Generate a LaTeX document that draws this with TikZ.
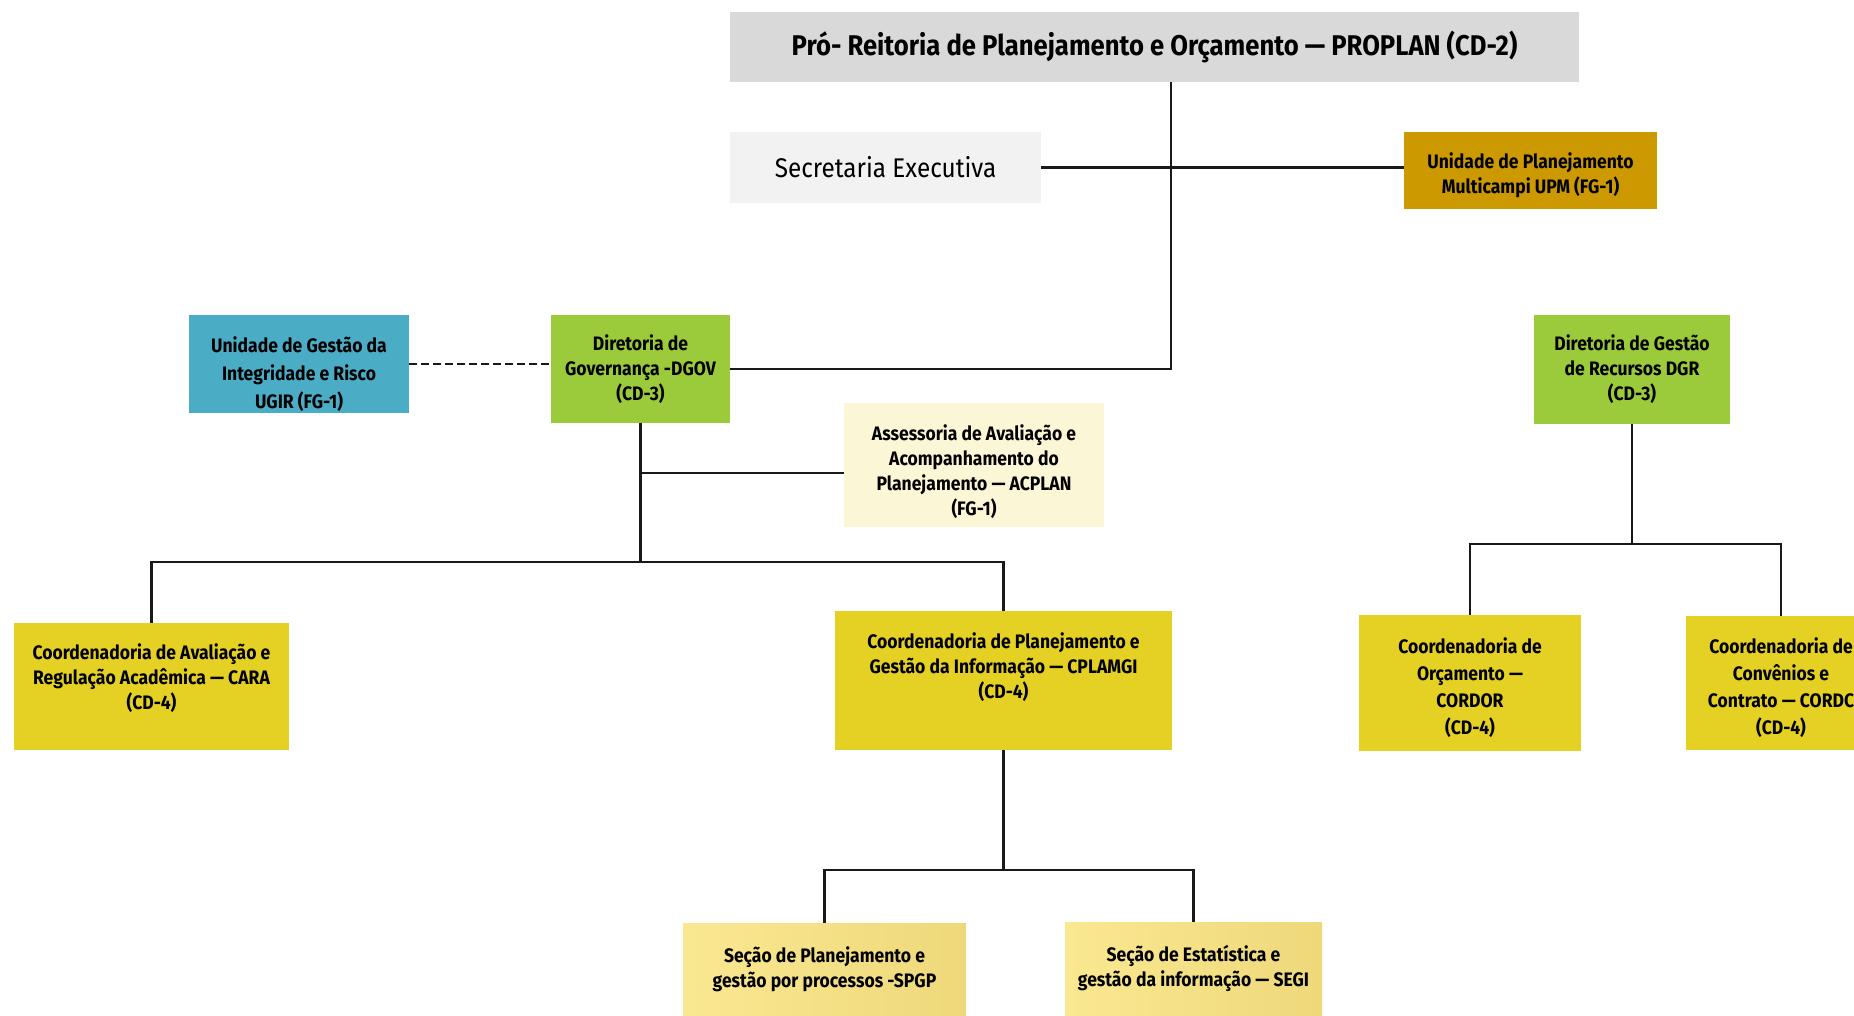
\documentclass[tikz,border=0pt]{standalone}
\usepackage{fontspec}
\newfontfamily\orgfont{Fira Sans}[FakeStretch=0.9]
\usepackage{tikz}
\usetikzlibrary{positioning,calc}
\definecolor{headgray}{RGB}{217,217,217}
\definecolor{secgray}{RGB}{242,242,242}
\definecolor{upmgold}{RGB}{204,153,0}
\definecolor{ugirblue}{RGB}{75,172,198}
\definecolor{dirgreen}{RGB}{155,203,59}
\definecolor{assescream}{RGB}{251,246,213}
\definecolor{coordyellow}{RGB}{229,208,36}
\definecolor{secaolight}{RGB}{250,232,145}
\definecolor{secaodark}{RGB}{238,216,122}
\begin{document}
\begin{tikzpicture}[x=1pt,y=-1pt,
    unit/.style={inner sep=0pt, align=center, text=black,
      font=\orgfont\bfseries\fontsize{19.5}{25}\selectfont},
    link/.style={line width=2.5pt, black!90}]
    \useasboundingbox (0,0) rectangle (1854,1015);
    \clip (0,0) rectangle (1854,1015);

    \node[unit, fill=headgray, minimum width=849pt, minimum height=70pt,
      font=\orgfont\bfseries\fontsize{28.5}{34}\selectfont] (proplan) at (1154.5,47)
      {Pró- Reitoria de Planejamento e Orçamento — PROPLAN (CD-2)};
    \node[unit, fill=secgray, minimum width=311pt, minimum height=71pt,
      font=\orgfont\fontsize{27}{30}\selectfont] (secex) at (885.5,167.5) {Secretaria Executiva};
    \node[unit, fill=upmgold, minimum width=253pt, minimum height=77pt] (upm) at (1530.5,170.5)
      {\rule{0pt}{26pt}Unidade de Planejamento\\Multicampi UPM (FG-1)};
    \node[unit, fill=ugirblue, minimum width=220pt, minimum height=98pt,
      font=\orgfont\bfseries\fontsize{19.5}{28}\selectfont] (ugir) at (299,364)
      {\rule{0pt}{36pt}Unidade de Gestão da\\Integridade e Risco\\UGIR (FG-1)};
    \node[unit, fill=dirgreen, minimum width=179pt, minimum height=108pt] (dgov) at (640.5,369)
      {Diretoria de\\Governança -DGOV\\(CD-3)};
    \node[unit, fill=assescream, minimum width=260pt, minimum height=124pt] (acplan) at (974,465)
      {\rule{0pt}{30pt}Assessoria de Avaliação e\\Acompanhamento do\\Planejamento —  ACPLAN\\(FG-1)};
    \node[unit, fill=dirgreen, minimum width=196pt, minimum height=109pt] (dgr) at (1632,369.5)
      {Diretoria de Gestão\\de Recursos DGR\\(CD-3)};
    \node[unit, fill=coordyellow, minimum width=275pt, minimum height=127pt] (cara) at (151.5,686.5)
      {Coordenadoria de Avaliação e\\Regulação Acadêmica — CARA\\(CD-4)\rule[-19pt]{0pt}{0pt}};
    \node[unit, fill=coordyellow, minimum width=337pt, minimum height=139pt] (cplamgi) at (1003.5,680.5)
      {Coordenadoria de Planejamento e\\Gestão da Informação — CPLAMGI\\(CD-4)\rule[-29pt]{0pt}{0pt}};
    \node[unit, fill=coordyellow, minimum width=222pt, minimum height=136pt,
      font=\orgfont\bfseries\fontsize{19.5}{27}\selectfont] (cordor) at (1470,683)
      {\rule{0pt}{26pt}Coordenadoria de\\Orçamento —\\CORDOR\\(CD-4)};
    \node[unit, fill=coordyellow, minimum width=190pt, minimum height=134pt,
      font=\orgfont\bfseries\fontsize{19.5}{27}\selectfont] (cordc) at (1781,683)
      {\rule{0pt}{26pt}Coordenadoria de\\Convênios e\\Contrato —  CORDC\\(CD-4)};
    \node[unit, left color=secaolight, right color=secaodark, minimum width=283pt, minimum height=92pt] (spgp) at (824.5,969)
      {Seção de Planejamento e\\gestão por processos -SPGP};
    \node[unit, left color=secaolight, right color=secaodark, minimum width=257pt, minimum height=93pt] (segi) at (1193.5,968.5)
      {Seção de Estatística e\\gestão da informação — SEGI};

    \coordinate (spine) at (1171,169);
    \coordinate (govbus) at (640.5,562);
    \coordinate (cplbus) at (1003.5,870);
    \coordinate (dgrbus) at (1632,544);
    \coordinate (acjoin) at ([yshift=-8pt]acplan.west);

    \draw[link] (spine |- proplan.south) -- (spine |- dgov.east) -- (dgov.east);
    \draw[link] (secex.east) -- (secex.east -| upm.west);
    \draw[link, dash pattern=on 8pt off 4pt] (ugir.east) -- (ugir.east -| dgov.west);
    \draw[link] (dgov.south) -- (govbus);
    \draw[link] (acjoin) -- (dgov.south |- acjoin);
    \draw[link] (cara.north) |- (govbus) -| (cplamgi.north);
    \draw[link] (cplamgi.south) -- (cplbus);
    \draw[link] (spgp.north) |- (cplbus) -| (segi.north);
    \draw[link] (dgr.south) -- (dgrbus);
    \draw[link] (cordor.north) |- (dgrbus) -| (cordc.north);
\end{tikzpicture}
\end{document}
